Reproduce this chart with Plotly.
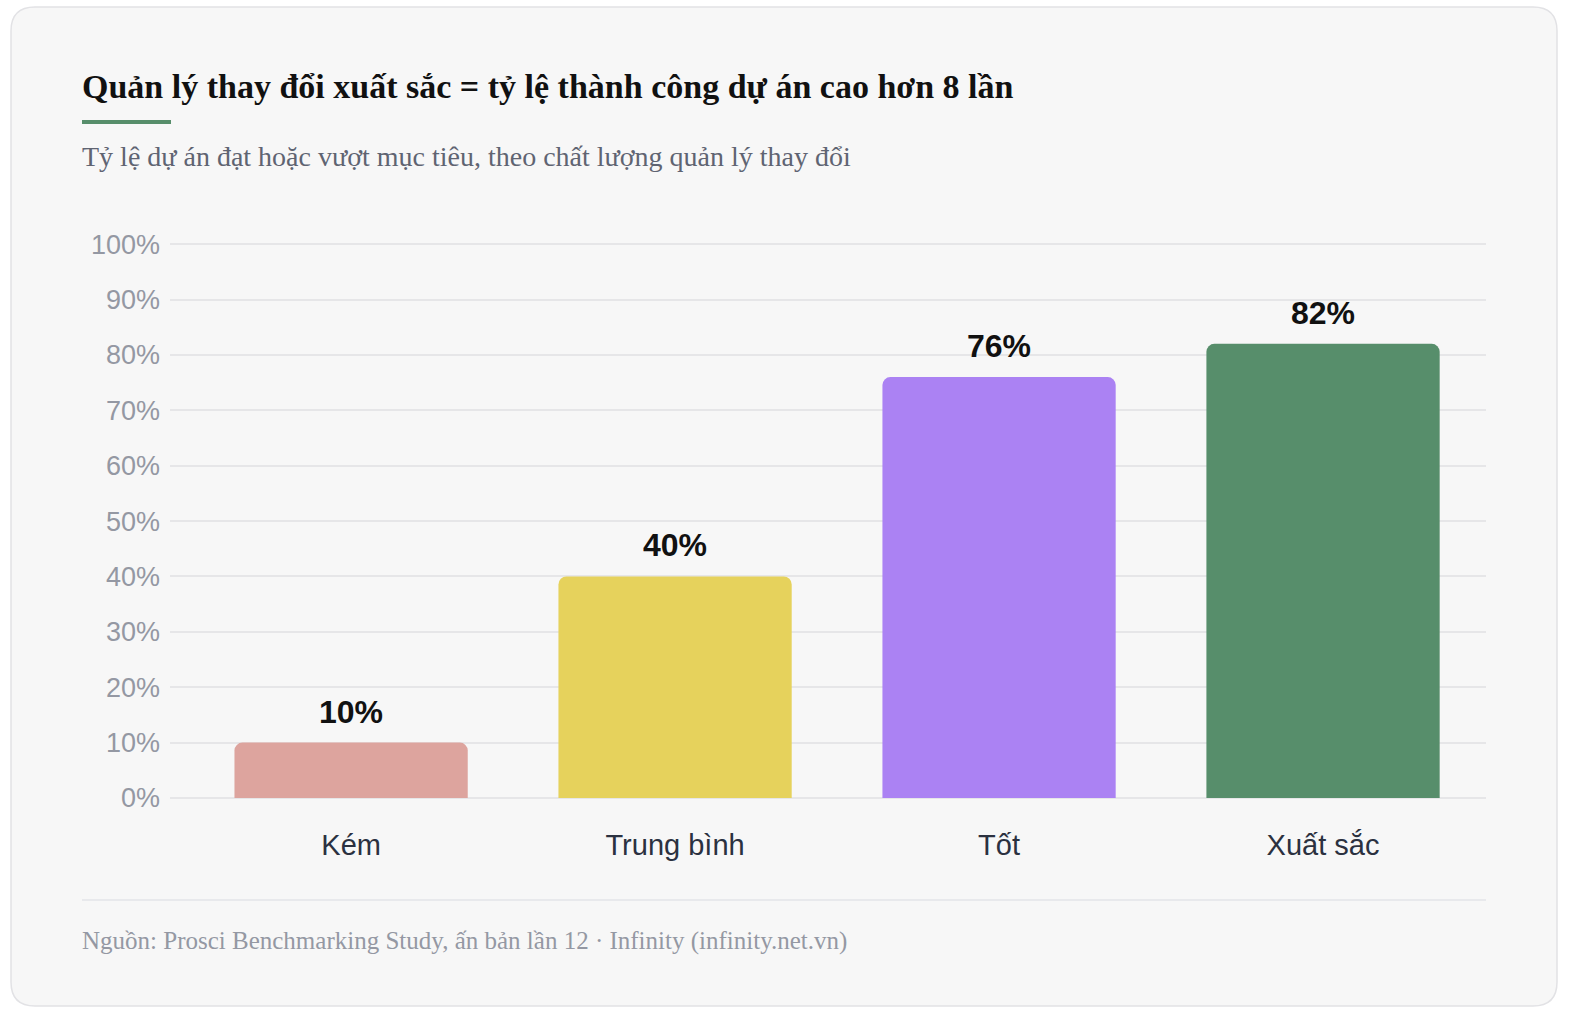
import plotly.graph_objects as go

categories = ["Kém", "Trung bình", "Tốt", "Xuất sắc"]
values = [10, 40, 76, 82]
bar_colors = ["#DDA49E", "#E6D25C", "#AB82F3", "#578E6B"]
y_ticks = [0, 10, 20, 30, 40, 50, 60, 70, 80, 90, 100]
y_tick_labels = [f"{v}%" for v in y_ticks]

title_text = "Quản lý thay đổi xuất sắc = tỷ lệ thành công dự án cao hơn 8 lần"
subtitle_text = "Tỷ lệ dự án đạt hoặc vượt mục tiêu, theo chất lượng quản lý thay đổi"
source_text = "Nguồn: Prosci Benchmarking Study, ấn bản lần 12 · Infinity (infinity.net.vn)"

W, H = 1572, 1020
PL, PR, PT, PB = 170, 1486, 243, 798
YMAX = 100.2


def px(x):
    return (x - PL) / (PR - PL)


def py(y):
    return (PB - y) / (PB - PT)


SANS = "Liberation Sans, Arial, Helvetica, sans-serif"
SERIF = "Liberation Serif, Times New Roman, serif"

fig = go.Figure()
fig.add_trace(go.Bar(
    x=list(range(len(categories))),
    y=values,
    width=0.72,
    marker=dict(color=bar_colors, cornerradius=8, line=dict(width=0)),
    hoverinfo="skip",
))

annotations = []
for i, v in enumerate(values):
    annotations.append(dict(
        x=i, y=v, xref="x", yref="y", text=f"{v}%", showarrow=False,
        yanchor="bottom", yshift=11,
        font=dict(family=SANS, size=32, color="#111111", weight="bold"),
    ))

annotations += [
    dict(x=px(80), y=py(86), xref="paper", yref="paper", text=f"<b>{title_text}</b>",
         showarrow=False, xanchor="left", yanchor="middle",
         font=dict(family=SERIF, size=34, color="#111111")),
    dict(x=px(80), y=py(156), xref="paper", yref="paper", text=subtitle_text,
         showarrow=False, xanchor="left", yanchor="middle",
         font=dict(family=SERIF, size=28, color="#5f6472")),
    dict(x=px(80), y=py(941), xref="paper", yref="paper", text=source_text,
         showarrow=False, xanchor="left", yanchor="middle",
         font=dict(family=SERIF, size=25, color="#9498a3")),
]

cx0, cx1, cy0, cy1 = 11, 1557, 7, 1006
rad = 24


def P(x, y):
    return f"{px(x)},{py(y)}"


card_path = (
    f"M {P(cx0 + rad, cy0)} L {P(cx1 - rad, cy0)} Q {P(cx1, cy0)} {P(cx1, cy0 + rad)} "
    f"L {P(cx1, cy1 - rad)} Q {P(cx1, cy1)} {P(cx1 - rad, cy1)} "
    f"L {P(cx0 + rad, cy1)} Q {P(cx0, cy1)} {P(cx0, cy1 - rad)} "
    f"L {P(cx0, cy0 + rad)} Q {P(cx0, cy0)} {P(cx0 + rad, cy0)} Z"
)
shapes = [
    dict(type="path", path=card_path, xref="paper", yref="paper", layer="below",
         fillcolor="#f7f7f7", line=dict(color="#e2e2e5", width=1.5)),
    dict(type="rect", xref="paper", yref="paper", x0=px(82), x1=px(171), y0=py(120), y1=py(124),
         fillcolor="#578E6B", line=dict(width=0), layer="above"),
    dict(type="line", xref="paper", yref="paper", x0=px(82), x1=px(1486), y0=py(900), y1=py(900),
         line=dict(color="#e3e4e8", width=1.5), layer="below"),
]

fig.update_layout(
    width=W, height=H,
    margin=dict(l=PL, r=W - PR, t=PT, b=H - PB, pad=0),
    paper_bgcolor="#ffffff",
    plot_bgcolor="rgba(0,0,0,0)",
    showlegend=False,
    annotations=annotations,
    shapes=shapes,
    xaxis=dict(
        range=[-0.559, 3.503],
        tickvals=list(range(len(categories))),
        ticktext=categories,
        showgrid=False, zeroline=False, showline=False, ticks="",
        tickfont=dict(family=SANS, size=29, color="#2b3140"),
        ticklabelstandoff=27,
        fixedrange=True,
    ),
    yaxis=dict(
        range=[0, YMAX],
        tickvals=y_ticks,
        ticktext=y_tick_labels,
        showgrid=True, gridcolor="#e6e6e8", gridwidth=1.5,
        zeroline=True, zerolinecolor="#e6e6e8", zerolinewidth=1.5,
        showline=False, ticks="",
        tickfont=dict(family=SANS, size=27, color="#9498a3"),
        ticklabelstandoff=9,
        fixedrange=True,
    ),
)

fig.write_html("out.html", config={"displayModeBar": False})
